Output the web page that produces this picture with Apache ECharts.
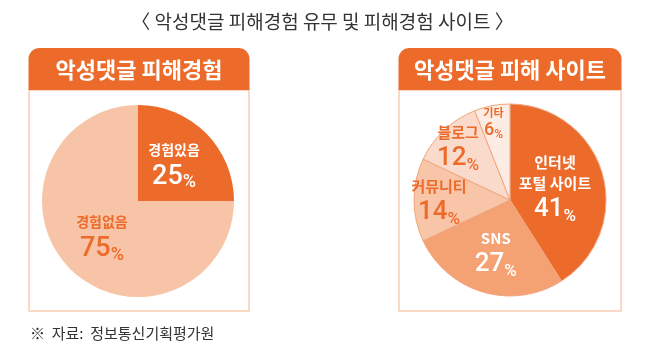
<!DOCTYPE html>
<html>
<head>
<meta charset="utf-8">
<script src="https://cdn.jsdelivr.net/npm/echarts@6/dist/echarts.min.js"></script>
<style>
  html, body { margin: 0; padding: 0; background: #fff; }
  #chart { width: 645px; height: 353px; }
</style>
</head>
<body>
<div id="chart"></div>
<script>
// data
const title = '〈 악성댓글 피해경험 유무 및 피해경험 사이트 〉'
const source = '※  자료:  정보통신기획평가원'

const expTitle = '악성댓글 피해경험'
const expNames = ['경험있음', '경험없음']
const expValues = [25, 75]

const siteTitle = '악성댓글 피해 사이트'
const siteNames = ['인터넷\n포털 사이트', 'SNS', '커뮤니티', '블로그', '기타']
const siteValues = [41, 27, 14, 12, 6]

const orange = '#ec6b2a'
const expColors = [orange, '#f7c4a7']
const siteColors = [orange, '#f4a274', '#f8c5a8', '#fadbcb', '#fcece3']
// label nudges for the site pie (labels are not all on the same radius)
const siteNudge = [[-4, 3], [0, 5], [-20, 2], [-17, -15], [-7, -27]]

const font = '"Noto Sans CJK KR", "Noto Sans", sans-serif'
const numFont = 'Roboto, "Liberation Sans", sans-serif'

function box(x, y, w, h, head) {
  return [
    {
      type: 'rect',
      shape: { x: x, y: y + 42, width: w, height: h - 42 },
      style: { fill: '#fff', stroke: '#f9cdb5', lineWidth: 1.5 },
      z: 0
    },
    {
      type: 'rect',
      shape: { x: x - 0.5, y: y, width: w + 1, height: 42, r: [11, 11, 0, 0] },
      style: { fill: orange },
      z: 1
    },
    {
      type: 'text',
      x: x + w / 2,
      y: y + 22,
      style: {
        text: head, fill: '#fff', font: 'bold 22px ' + font,
        align: 'center', verticalAlign: 'middle'
      },
      z: 2
    }
  ]
}

const chart = echarts.init(document.getElementById('chart'))

chart.setOption({
  backgroundColor: '#fff',
  animation: false,
  title: {
    text: title,
    left: 'center',
    top: 7,
    textStyle: { fontFamily: font, fontSize: 19, fontWeight: 'normal', color: '#333' }
  },
  graphic: [
    ...box(29, 48, 220, 263, expTitle),
    ...box(399, 48, 222, 263, siteTitle),
    {
      type: 'text',
      left: 30,
      top: 326,
      style: { text: source, fill: '#333', font: '15px ' + font }
    }
  ],
  series: [
    {
      type: 'pie',
      center: [138, 201],
      radius: 96,
      startAngle: 90,
      clockwise: true,
      z: 5,
      label: {
        show: true,
        position: 'inside',
        fontFamily: font,
        formatter: p => '{n|' + p.name + '}\n{v|' + p.value + '}{p|%}',
        rich: {
          n: { fontFamily: font, fontSize: 14, fontWeight: 'bold', lineHeight: 24 },
          v: { fontFamily: numFont, fontSize: 27, fontWeight: 500, lineHeight: 30 },
          p: { fontFamily: numFont, fontSize: 18, fontWeight: 500, lineHeight: 30, verticalAlign: 'bottom' }
        }
      },
      itemStyle: { borderWidth: 0 },
      emphasis: { disabled: true },
      data: expNames.map((n, i) => ({
        name: n,
        value: expValues[i],
        itemStyle: { color: expColors[i] },
        label: { color: i === 0 ? '#fff' : orange }
      }))
    },
    {
      type: 'pie',
      center: [510, 200],
      radius: 96,
      startAngle: 90,
      clockwise: true,
      z: 5,
      label: {
        show: true,
        position: 'inside',
        fontFamily: font,
        formatter: p => {
          const s = p.dataIndex === 4 ? 's' : ''
          const name = p.name.split('\n').map(t => '{n' + s + '|' + t + '}').join('\n')
          return name + '\n{v' + s + '|' + p.value + '}{p' + s + '|%}'
        },
        rich: {
          n: { fontFamily: font, fontSize: 15, fontWeight: 'bold', lineHeight: 21 },
          v: { fontFamily: numFont, fontSize: 26, fontWeight: 500, lineHeight: 31 },
          p: { fontFamily: numFont, fontSize: 17, fontWeight: 500, lineHeight: 31, verticalAlign: 'bottom' },
          ns: { fontFamily: font, fontSize: 11, fontWeight: 'bold', lineHeight: 16 },
          vs: { fontFamily: numFont, fontSize: 18, fontWeight: 500, lineHeight: 20 },
          ps: { fontFamily: numFont, fontSize: 12, fontWeight: 500, lineHeight: 20, verticalAlign: 'bottom' }
        }
      },
      labelLayout: p => ({ dx: siteNudge[p.dataIndex][0], dy: siteNudge[p.dataIndex][1] }),
      itemStyle: { borderColor: '#f2a57c', borderWidth: 1 },
      emphasis: { disabled: true },
      data: siteNames.map((n, i) => ({
        name: n,
        value: siteValues[i],
        itemStyle: { color: siteColors[i] },
        label: { color: i < 2 ? '#fff' : orange }
      }))
    }
  ]
})
</script>
</body>
</html>
